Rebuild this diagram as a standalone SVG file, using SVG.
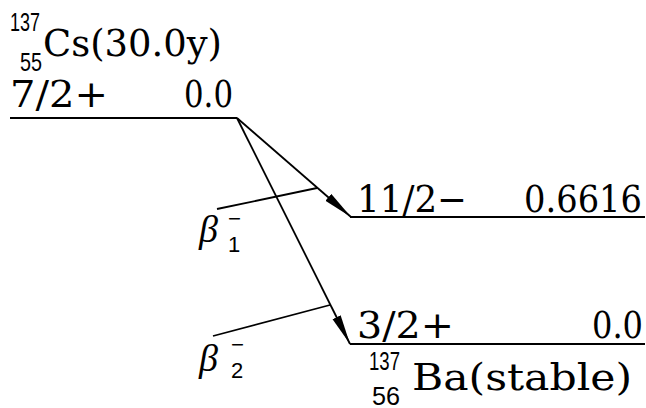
<svg xmlns="http://www.w3.org/2000/svg" width="646" height="408" viewBox="0 0 646 408">
<style>
.lv{stroke:#000;stroke-width:2;fill:none}
.cn{stroke:#000;stroke-width:1.8;fill:none}
.t{font-family:"DejaVu Serif","Liberation Serif",serif;font-size:37px;fill:#000}
.s{font-family:"Liberation Sans","DejaVu Sans",sans-serif;font-size:25px;fill:#000}
.b{font-family:"Liberation Serif","DejaVu Serif",serif;font-style:italic;font-size:38px;fill:#000}
.bs{font-family:"Liberation Sans","DejaVu Sans",sans-serif;font-size:22px;fill:#000}
</style>
<defs>
<marker id="ah" markerUnits="userSpaceOnUse" markerWidth="32" markerHeight="12" refX="30" refY="5" orient="auto">
<path d="M0,0.5 L30,5 L0,9.5 z" fill="#000"/>
</marker>
</defs>
<rect width="646" height="408" fill="#fff"/>
<g id="cs137">
<line class="lv" x1="10" y1="118" x2="237" y2="118"/>
<text class="s" x="10" y="31" textLength="30" lengthAdjust="spacingAndGlyphs">137</text>
<text class="s" x="20" y="71" textLength="22" lengthAdjust="spacingAndGlyphs">55</text>
<text class="t" x="43" y="56" textLength="179" lengthAdjust="spacingAndGlyphs">Cs(30.0y)</text>
<text class="t" x="10" y="107" textLength="98" lengthAdjust="spacingAndGlyphs">7/2+</text>
<text class="t" x="184" y="107" textLength="49" lengthAdjust="spacingAndGlyphs">0.0</text>
</g>
<g id="ba137m">
<line class="lv" x1="350" y1="217" x2="645" y2="217"/>
<text class="t" x="357" y="212" textLength="110" lengthAdjust="spacingAndGlyphs">11/2−</text>
<text class="t" x="524" y="212" textLength="118" lengthAdjust="spacingAndGlyphs">0.6616</text>
</g>
<g id="ba137">
<line class="lv" x1="350" y1="344" x2="645" y2="344"/>
<text class="t" x="357" y="338" textLength="97" lengthAdjust="spacingAndGlyphs">3/2+</text>
<text class="t" x="592" y="338" textLength="51" lengthAdjust="spacingAndGlyphs">0.0</text>
<text class="s" x="369" y="370" textLength="31" lengthAdjust="spacingAndGlyphs">137</text>
<text class="s" x="372" y="405" textLength="28" lengthAdjust="spacingAndGlyphs">56</text>
<text class="t" x="412" y="390" textLength="220" lengthAdjust="spacingAndGlyphs">Ba(stable)</text>
</g>
<g id="connectors">
<line class="cn" x1="237" y1="118" x2="351" y2="217" marker-end="url(#ah)"/>
<line class="cn" x1="237" y1="118" x2="350" y2="344" marker-end="url(#ah)"/>
<line class="cn" x1="217" y1="209" x2="317" y2="188"/>
<line class="cn" x1="213" y1="336" x2="330" y2="305"/>
</g>
<g id="beta1">
<text class="b" x="199" y="242">β</text>
<text class="bs" x="228" y="226" textLength="13" lengthAdjust="spacingAndGlyphs">−</text>
<text class="bs" x="228" y="252">1</text>
</g>
<g id="beta2">
<text class="b" x="199" y="371">β</text>
<text class="bs" x="231" y="352" textLength="13" lengthAdjust="spacingAndGlyphs">−</text>
<text class="bs" x="231" y="378">2</text>
</g>
</svg>
